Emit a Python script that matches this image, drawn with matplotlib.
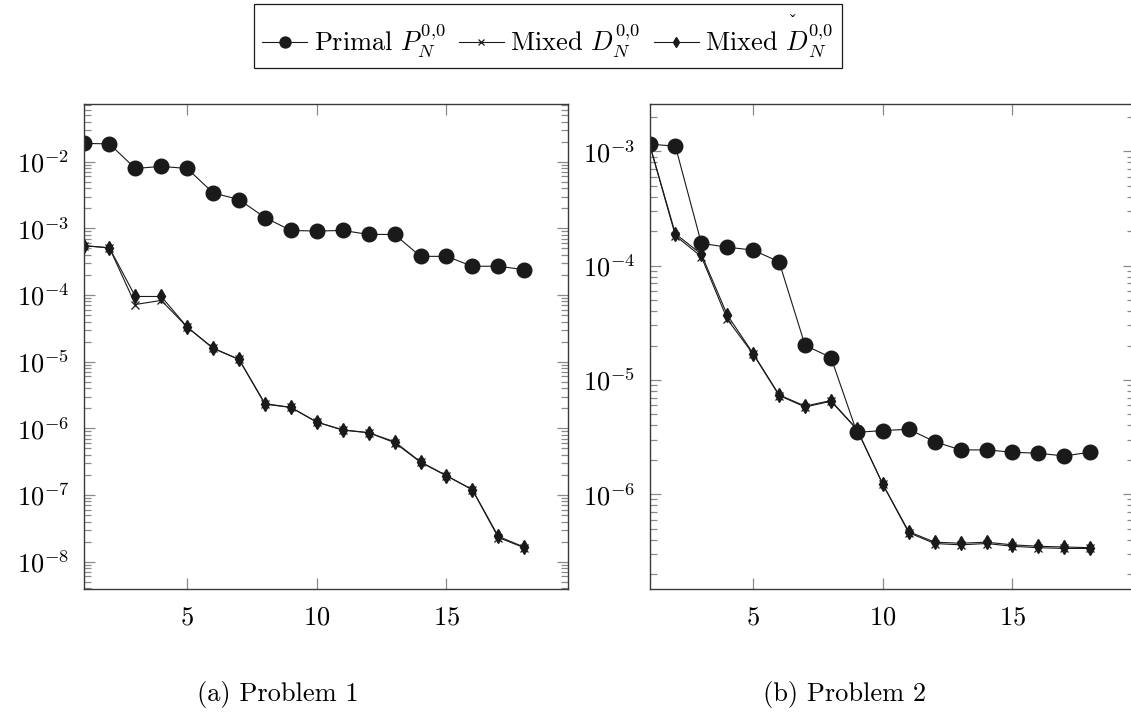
import matplotlib
matplotlib.use("Agg")
import matplotlib.pyplot as plt
from matplotlib.ticker import LogLocator, NullFormatter, FixedLocator

plt.rcParams['mathtext.fontset'] = 'cm'
plt.rcParams['font.family'] = 'serif'
plt.rcParams['font.serif'] = ['cmr10', 'DejaVu Serif']
plt.rcParams['axes.formatter.use_mathtext'] = True
plt.rcParams['axes.unicode_minus'] = False

n = list(range(1, 19))

# Problem 1
p1_primal = [1.88e-2, 1.85e-2, 7.9e-3, 8.5e-3, 7.9e-3, 3.4e-3, 2.7e-3, 1.45e-3, 9.3e-4,
             9.1e-4, 9.3e-4, 8.1e-4, 8.1e-4, 3.8e-4, 3.8e-4, 2.7e-4, 2.7e-4, 2.4e-4]
p1_mixed_D = [5.5e-4, 5.1e-4, 7.2e-5, 8.3e-5, 3.3e-5, 1.58e-5, 1.08e-5, 2.3e-6, 2.06e-6,
              1.24e-6, 9.4e-7, 8.6e-7, 6.1e-7, 3.1e-7, 1.94e-7, 1.2e-7, 2.3e-8, 1.62e-8]
p1_mixed_Dc = [5.5e-4, 5.1e-4, 9.5e-5, 9.5e-5, 3.3e-5, 1.6e-5, 1.08e-5, 2.35e-6, 2.06e-6,
               1.24e-6, 9.5e-7, 8.6e-7, 6.3e-7, 3.15e-7, 1.96e-7, 1.2e-7, 2.4e-8, 1.65e-8]

# Problem 2
p2_primal = [1.16e-3, 1.11e-3, 1.57e-4, 1.45e-4, 1.37e-4, 1.08e-4, 2.01e-5, 1.57e-5, 3.48e-6,
             3.6e-6, 3.7e-6, 2.88e-6, 2.44e-6, 2.44e-6, 2.33e-6, 2.28e-6, 2.16e-6, 2.33e-6]
p2_mixed_D = [1.16e-3, 1.83e-4, 1.2e-4, 3.4e-5, 1.68e-5, 7.3e-6, 5.8e-6, 6.5e-6, 3.7e-6,
              1.22e-6, 4.6e-7, 3.7e-7, 3.6e-7, 3.7e-7, 3.5e-7, 3.4e-7, 3.35e-7, 3.35e-7]
p2_mixed_Dc = [1.16e-3, 1.9e-4, 1.26e-4, 3.7e-5, 1.7e-5, 7.4e-6, 5.9e-6, 6.6e-6, 3.7e-6,
               1.22e-6, 4.7e-7, 3.8e-7, 3.72e-7, 3.8e-7, 3.6e-7, 3.5e-7, 3.45e-7, 3.4e-7]

labels = [r'Primal $P_N^{0{,}0}$', r'Mixed $D_N^{0{,}0}$',
          r'Mixed $\overset{\check{}}{D}_N^{0{,}0}$']
captions = ['(a) Problem 1', '(b) Problem 2']

W, H = 1131, 720
fig = plt.figure(figsize=(W / 100, H / 100), dpi=100)

ax1 = fig.add_axes([83.5 / W, (H - 589) / H, 484.8 / W, 485 / H])
ax2 = fig.add_axes([649.5 / W, (H - 589) / H, 484.8 / W, 485 / H])

tick_col = '#8a8a8a'
spine_col = '#3a3a3a'
FS = 19

def draw(ax, prim, md, mdc, ylim, yticks):
    h1, = ax.plot(n, prim, color='#1a1a1a', lw=0.8, marker='o', ms=10.5,
                  mfc='#1a1a1a', mec='#1a1a1a')
    h2, = ax.plot(n, md, color='#1a1a1a', lw=0.8, marker='x', ms=5.5, mew=0.9)
    h3, = ax.plot(n, mdc, color='#1a1a1a', lw=0.8, marker='d', ms=7,
                  mfc='#1a1a1a', mec='#1a1a1a')
    ax.set_yscale('log')
    ax.set_xlim(1, 19.7)
    ax.set_ylim(*ylim)
    ax.xaxis.set_major_locator(FixedLocator([5, 10, 15]))
    ax.yaxis.set_major_locator(FixedLocator(yticks))
    ax.yaxis.set_minor_locator(LogLocator(base=10, subs=range(2, 10), numticks=40))
    ax.yaxis.set_minor_formatter(NullFormatter())
    ax.tick_params(which='both', direction='in', top=True, right=True,
                   color=tick_col, labelsize=FS, width=0.9)
    ax.tick_params(which='major', length=8, pad=10)
    ax.tick_params(which='minor', length=5)
    ax.tick_params(axis='x', which='major', pad=12)
    for s in ax.spines.values():
        s.set_color(spine_col)
        s.set_linewidth(1.0)
    return h1, h2, h3

handles = draw(ax1, p1_primal, p1_mixed_D, p1_mixed_Dc,
               (10 ** -8.41, 10 ** -1.135), [1e-2, 1e-3, 1e-4, 1e-5, 1e-6, 1e-7, 1e-8])
draw(ax2, p2_primal, p2_mixed_D, p2_mixed_Dc,
     (10 ** -6.83, 10 ** -2.585), [1e-3, 1e-4, 1e-5, 1e-6])

leg = fig.legend(handles, labels, loc='center', bbox_to_anchor=(548 / W, 1 - 36 / H),
                 ncol=3, fontsize=FS, frameon=True, fancybox=False, framealpha=1,
                 edgecolor='#1a1a1a', handlelength=1.7, handletextpad=0.25,
                 columnspacing=0.5, borderpad=0.3, borderaxespad=0, markerscale=0.75)
leg.get_frame().set_linewidth(0.9)

fig.text(278 / W, 1 - 695 / H, captions[0], ha='center', va='center', fontsize=FS)
fig.text(845 / W, 1 - 695 / H, captions[1], ha='center', va='center', fontsize=FS)

fig.savefig('out.png', dpi=100)
